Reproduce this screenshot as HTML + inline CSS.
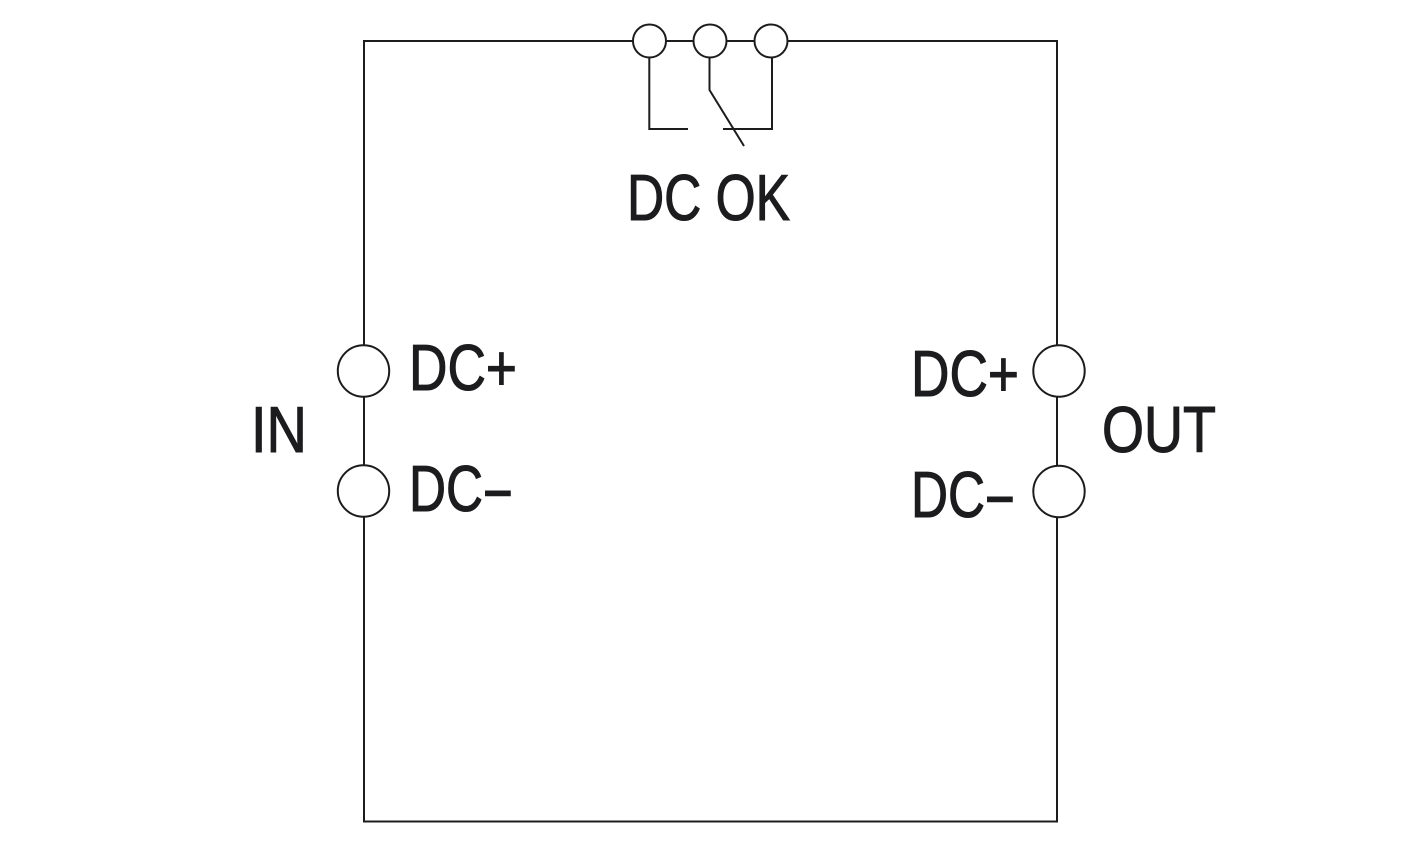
<!DOCTYPE html>
<html>
<head>
<meta charset="utf-8">
<style>
  html, body { margin: 0; padding: 0; background: #ffffff; }
  body { width: 1428px; height: 847px; overflow: hidden; }
  svg { display: block; }
  text { font-family: "Liberation Sans", "DejaVu Sans", sans-serif; font-size: 65px; fill: #1c1c1e; stroke: #1c1c1e; stroke-width: 1.1px; }
</style>
</head>
<body>
<svg width="1428" height="847" viewBox="0 0 1428 847" xmlns="http://www.w3.org/2000/svg">
  <g fill="none" stroke="#1c1c1e" stroke-width="2">
    <!-- main rectangle -->
    <rect x="364" y="41" width="693" height="780.5"/>
    <!-- relay contacts -->
    <polyline points="649.3,58 649.3,129 688,129"/>
    <polyline points="709.5,58 709.5,90 744,146"/>
    <polyline points="772,58 772,129 723,129"/>
  </g>
  <g fill="#ffffff" stroke="#1c1c1e" stroke-width="2">
    <!-- top terminals -->
    <circle cx="649.5" cy="41" r="16.5"/>
    <circle cx="710" cy="41" r="16.5"/>
    <circle cx="771" cy="41" r="16.5"/>
    <!-- left terminals -->
    <circle cx="363.5" cy="371" r="25.7"/>
    <circle cx="363.5" cy="491" r="25.7"/>
    <!-- right terminals -->
    <circle cx="1059" cy="371" r="25.7"/>
    <circle cx="1059" cy="491.5" r="25.7"/>
  </g>
  <text x="627" y="220" textLength="163" lengthAdjust="spacingAndGlyphs">DC OK</text>
  <text x="409" y="390" textLength="108" lengthAdjust="spacingAndGlyphs">DC+</text>
  <text x="409" y="511" textLength="104" lengthAdjust="spacingAndGlyphs">DC<tspan dy="4">−</tspan></text>
  <text x="251" y="452" textLength="56" lengthAdjust="spacingAndGlyphs">IN</text>
  <text x="911" y="396" textLength="108" lengthAdjust="spacingAndGlyphs">DC+</text>
  <text x="911" y="517" textLength="104" lengthAdjust="spacingAndGlyphs">DC<tspan dy="4">−</tspan></text>
  <text x="1102" y="452" textLength="114" lengthAdjust="spacingAndGlyphs">OUT</text>
</svg>
</body>
</html>
